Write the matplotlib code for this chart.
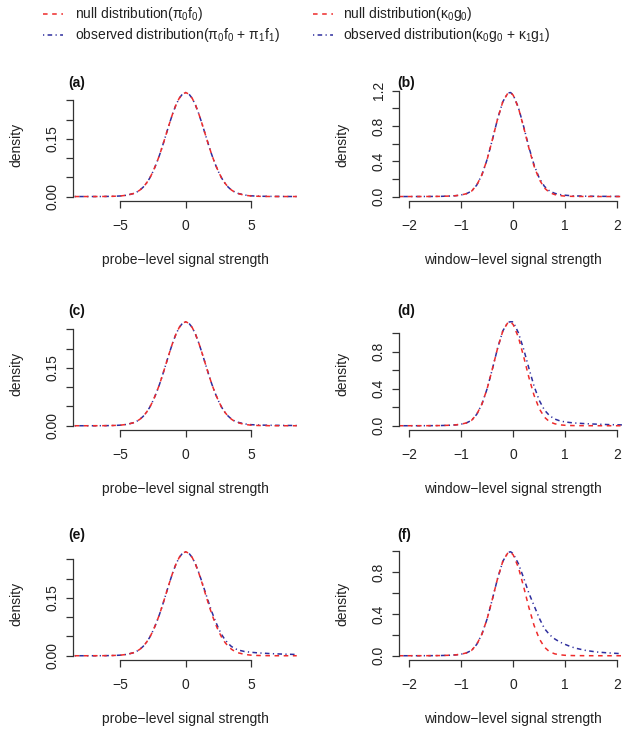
import matplotlib
matplotlib.use('Agg')
import matplotlib.pyplot as plt
from matplotlib.lines import Line2D

plt.rcParams['font.family'] = ['Liberation Sans', 'DejaVu Sans']
plt.rcParams['mathtext.fontset'] = 'custom'
plt.rcParams['mathtext.rm'] = 'Liberation Sans'
plt.rcParams['mathtext.it'] = 'Liberation Sans:italic'
plt.rcParams['font.size'] = 10

# probe-level densities (panels a, c, e)
probe_x = [-8.5, -8, -7.5, -7, -6.5, -6, -5.5, -5, -4.5, -4,
           -3.75, -3.5, -3.25, -3, -2.75, -2.5, -2.25, -2, -1.75, -1.5, -1.25, -1, -0.75, -0.5, -0.25,
           0,
           0.25, 0.5, 0.75, 1, 1.25, 1.5, 1.75, 2, 2.25, 2.5, 2.75, 3, 3.25, 3.5, 3.75,
           4, 4.5, 5, 5.5, 6, 6.5, 7, 7.5, 8, 8.5]

null_a = [0, 0, 0, 0, 0.0001, 0.0003, 0.0007, 0.0015, 0.0035, 0.0078,
          0.0115, 0.017, 0.0245, 0.035, 0.048, 0.065, 0.085, 0.108, 0.134, 0.1615, 0.189, 0.215, 0.2375, 0.255, 0.266,
          0.270,
          0.266, 0.255, 0.2375, 0.215, 0.189, 0.1615, 0.134, 0.108, 0.085, 0.065, 0.048, 0.035, 0.0245, 0.017, 0.0115,
          0.0078, 0.0035, 0.0015, 0.0007, 0.0003, 0.0001, 0, 0, 0, 0]
obs_a = [0, 0, 0, 0, 0.0001, 0.0003, 0.0007, 0.0015, 0.0035, 0.0078,
         0.0115, 0.017, 0.0245, 0.035, 0.048, 0.065, 0.085, 0.108, 0.134, 0.1615, 0.189, 0.215, 0.2375, 0.255, 0.266,
         0.270,
         0.266, 0.255, 0.2375, 0.215, 0.189, 0.1615, 0.134, 0.108, 0.085, 0.065, 0.048, 0.035, 0.0245, 0.017, 0.0118,
         0.0082, 0.004, 0.0019, 0.001, 0.0006, 0.0004, 0.0003, 0.0002, 0.0001, 0.0001]

null_c = list(null_a)
obs_c = [0, 0, 0, 0, 0.0001, 0.0003, 0.0007, 0.0015, 0.0035, 0.0078,
         0.0115, 0.017, 0.0245, 0.035, 0.048, 0.065, 0.085, 0.108, 0.134, 0.1615, 0.189, 0.215, 0.2375, 0.255, 0.266,
         0.270,
         0.266, 0.255, 0.2375, 0.215, 0.189, 0.1615, 0.134, 0.108, 0.085, 0.065, 0.048, 0.035, 0.025, 0.0175, 0.012,
         0.009, 0.0048, 0.0028, 0.002, 0.0015, 0.0012, 0.001, 0.0008, 0.0007, 0.0006]

null_e = list(null_a)
obs_e = [0, 0, 0, 0, 0.0001, 0.0003, 0.0007, 0.0015, 0.0035, 0.0078,
         0.0115, 0.017, 0.0245, 0.035, 0.048, 0.065, 0.085, 0.108, 0.134, 0.1615, 0.189, 0.215, 0.2375, 0.255, 0.266,
         0.270,
         0.266, 0.255, 0.238, 0.216, 0.191, 0.165, 0.139, 0.114, 0.092, 0.072, 0.055, 0.042, 0.032, 0.024, 0.019,
         0.015, 0.011, 0.009, 0.0075, 0.0065, 0.0055, 0.0048, 0.0042, 0.0037, 0.0033]

# window-level densities (panels b, d, f)
window_x = [-2.2, -2.0, -1.8, -1.6, -1.4, -1.2,
            -1.1, -1.0, -0.9, -0.8, -0.7, -0.6, -0.5, -0.4, -0.3, -0.2, -0.1,
            -0.05,
            0.0, 0.1, 0.2, 0.3, 0.4, 0.5, 0.6, 0.7, 0.8, 0.9, 1.0, 1.1, 1.2,
            1.4, 1.6, 1.8, 2.0, 2.2]

null_b = [0, 0.0001, 0.0003, 0.0008, 0.002, 0.006,
          0.010, 0.018, 0.032, 0.061, 0.130, 0.248, 0.422, 0.644, 0.879, 1.074, 1.174,
          1.178,
          1.148, 1.005, 0.787, 0.552, 0.346, 0.194, 0.0975, 0.044, 0.022, 0.010, 0.005, 0.0025, 0.0013,
          0.0004, 0.0001, 0, 0, 0]
obs_b = [0, 0.0001, 0.0003, 0.0008, 0.002, 0.006,
         0.010, 0.018, 0.032, 0.061, 0.130, 0.248, 0.422, 0.644, 0.879, 1.074, 1.174,
         1.178,
         1.15, 1.01, 0.795, 0.562, 0.36, 0.21, 0.115, 0.062, 0.036, 0.022, 0.015, 0.010, 0.007,
         0.004, 0.0025, 0.0018, 0.0012, 0.0009]

null_d = [0, 0.0001, 0.0003, 0.0008, 0.0019, 0.0057,
          0.0095, 0.017, 0.0305, 0.058, 0.124, 0.236, 0.402, 0.614, 0.838, 1.024, 1.119,
          1.123,
          1.094, 0.958, 0.750, 0.526, 0.330, 0.185, 0.093, 0.042, 0.021, 0.0095, 0.0048, 0.0024, 0.0012,
          0.0004, 0.0001, 0, 0, 0]
obs_d = [0, 0.0001, 0.0003, 0.0008, 0.0019, 0.0057,
         0.0095, 0.017, 0.0305, 0.058, 0.124, 0.236, 0.402, 0.614, 0.838, 1.026, 1.12,
         1.125,
         1.124, 1.005, 0.83, 0.625, 0.43, 0.275, 0.17, 0.108, 0.072, 0.052, 0.041, 0.034, 0.029,
         0.022, 0.017, 0.013, 0.010, 0.008]

null_f = [0, 0.0001, 0.0003, 0.0007, 0.0017, 0.005,
          0.0084, 0.015, 0.027, 0.051, 0.109, 0.208, 0.354, 0.541, 0.738, 0.902, 0.986,
          0.99,
          0.964, 0.844, 0.661, 0.464, 0.291, 0.163, 0.082, 0.037, 0.018, 0.0084, 0.0042, 0.0021, 0.0011,
          0.0003, 0.0001, 0, 0, 0]
obs_f = [0, 0.0001, 0.0003, 0.0007, 0.0017, 0.005,
         0.0084, 0.015, 0.027, 0.051, 0.109, 0.208, 0.354, 0.541, 0.738, 0.902, 0.988,
         0.994,
         0.975, 0.88, 0.745, 0.60, 0.48, 0.36, 0.26, 0.20, 0.16, 0.13, 0.108, 0.088, 0.072,
         0.05, 0.036, 0.028, 0.022, 0.018]

probe_ticks = [-5, 0, 5]
window_ticks = [-2, -1, 0, 1, 2]

RED = '#ee2b2b'
BLUE = '#2e2e9e'
AX = '#333333'
W, H = 622, 730

fig = plt.figure(figsize=(W / 100, H / 100), dpi=100)

col_left = [72.7, 398.7]
col_width = [226, 229]
row_top = [88.4, 317.6, 547.6]
ax_h = 112.3

panels = [
    ('(a)', 0, 0, probe_x, null_a, obs_a),
    ('(b)', 0, 1, window_x, null_b, obs_b),
    ('(c)', 1, 0, probe_x, null_c, obs_c),
    ('(d)', 1, 1, window_x, null_d, obs_d),
    ('(e)', 2, 0, probe_x, null_e, obs_e),
    ('(f)', 2, 1, window_x, null_f, obs_f),
]
label_y = [83.3, 311, 535]
label_x = [68, 397]

for tag, r, c, x, null, obs in panels:
    l, w, t = col_left[c], col_width[c], row_top[r]
    ax = fig.add_axes([l / W, 1 - (t + ax_h) / H, w / W, ax_h / H])
    ax.plot(x, obs, color=BLUE, lw=1.1, ls=(0, (0.8, 2.2, 3, 2.2)))
    ax.plot(x, null, color=RED, lw=1.1, ls=(0, (3, 3)))

    top = max(max(null), max(obs))
    ax.set_ylim(-0.04 * top, 1.04 * top)
    if c == 0:
        ax.set_xlim(-8.65, 8.65)
        ax.set_xticks(probe_ticks)
        ax.set_xticklabels(['\u22125', '0', '5'])
        yt = [0, 0.05, 0.10, 0.15, 0.20, 0.25]
        ax.set_yticks(yt)
        ax.set_yticklabels(['0.00', '', '', '0.15', '', ''])
        xlab = 'probe\u2212level signal strength'
        ax.spines['bottom'].set_bounds(-5, 5)
    else:
        ax.set_xlim(-2.2, 2.2)
        ax.set_xticks(window_ticks)
        ax.set_xticklabels(['\u22122', '\u22121', '0', '1', '2'])
        if r == 0:
            yt = [0, 0.2, 0.4, 0.6, 0.8, 1.0, 1.2]
            ax.set_yticklabels
            ax.set_yticks(yt)
            ax.set_yticklabels(['0.0', '', '0.4', '', '0.8', '', '1.2'])
        else:
            yt = [0, 0.2, 0.4, 0.6, 0.8, 1.0]
            ax.set_yticks(yt)
            ax.set_yticklabels(['0.0', '', '0.4', '', '0.8', ''])
        xlab = 'window\u2212level signal strength'
        ax.spines['bottom'].set_bounds(-2, 2)
    ax.spines['left'].set_bounds(0, yt[-1])

    for s in ['top', 'right']:
        ax.spines[s].set_visible(False)
    for s in ['left', 'bottom']:
        ax.spines[s].set_color(AX)
        ax.spines[s].set_linewidth(0.9)
    ax.tick_params(direction='out', length=5, width=0.9, color=AX, labelsize=10, labelcolor='#222222')
    ax.tick_params(axis='x', pad=8)
    ax.tick_params(axis='y', pad=4.3, labelrotation=90)
    for lab in ax.get_yticklabels():
        lab.set_va('center')

    ax.text(0.5, -59.3 / ax_h, xlab, transform=ax.transAxes, ha='center', va='center',
            fontsize=10, color='#222222')
    ax.text(-56 / w, 0.5, 'density', transform=ax.transAxes, rotation=90,
            ha='center', va='center', fontsize=10, color='#222222')
    fig.text(label_x[c] / W, 1 - label_y[r] / H, tag, ha='left', va='center',
             fontsize=10, fontweight='bold', color='#111111')

# legends on top
legend_items = [
    (43.3, 75, 14, RED, (0, (3, 3)), 'null distribution(\u03c0$_0$f$_0$)'),
    (43.3, 75, 35, BLUE, (0, (0.8, 2.2, 3, 2.2)), 'observed distribution(\u03c0$_0$f$_0$ + \u03c0$_1$f$_1$)'),
    (313, 343, 14, RED, (0, (3, 3)), 'null distribution(\u03ba$_0$g$_0$)'),
    (313, 343, 35, BLUE, (0, (0.8, 2.2, 3, 2.2)), 'observed distribution(\u03ba$_0$g$_0$ + \u03ba$_1$g$_1$)'),
]
for x0, tx, y, col, ls, txt in legend_items:
    fig.add_artist(Line2D([x0 / W, (x0 + 20) / W], [1 - y / H, 1 - y / H],
                          transform=fig.transFigure, color=col, lw=1.1, ls=ls))
    fig.text(tx / W, 1 - y / H, txt, ha='left', va='center', fontsize=10, color='#222222')

fig.savefig('out.png', dpi=100)
